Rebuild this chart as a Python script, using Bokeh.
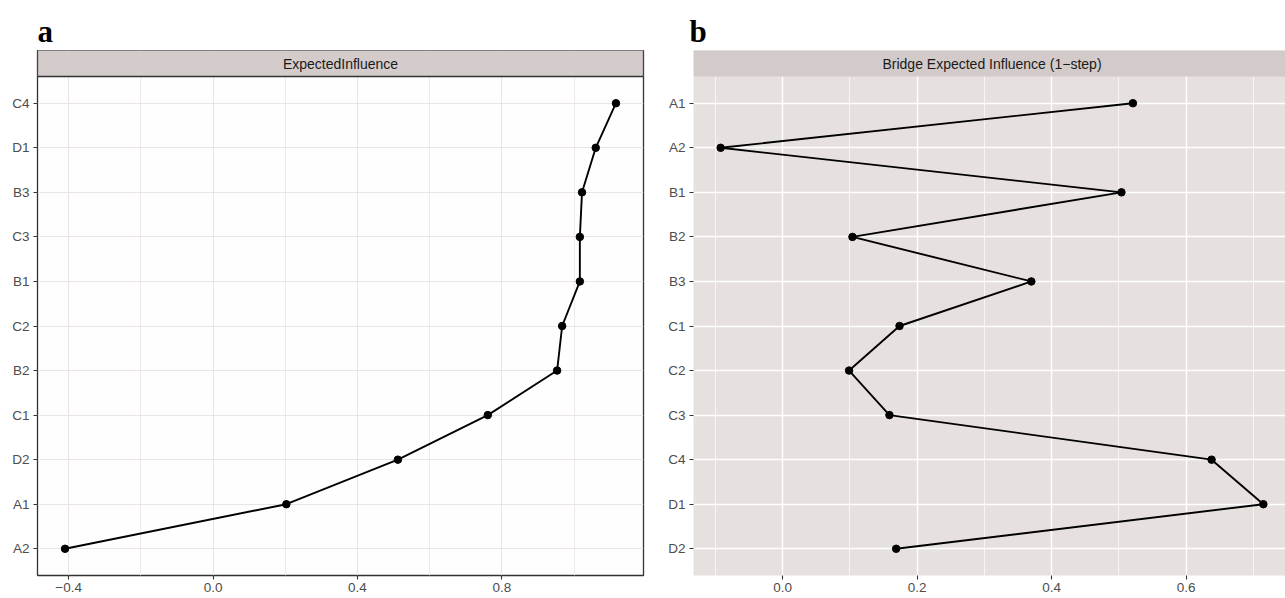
from bokeh.plotting import figure
from bokeh.layouts import column, row
from bokeh.models import Range1d, FixedTicker
from bokeh.core.properties import value
from bokeh.embed import file_html
from bokeh.resources import INLINE

# ---------------- data ----------------
left_title = "ExpectedInfluence"
left_cats = ["C4", "D1", "B3", "C3", "B1", "C2", "B2", "C1", "D2", "A1", "A2"]
left_vals = [1.116, 1.060, 1.022, 1.016, 1.016, 0.967, 0.953, 0.761, 0.512, 0.203, -0.410]
left_major = [-0.4, 0.0, 0.4, 0.8]
left_minor = [-0.2, 0.2, 0.6, 1.0]
left_tick_labels = ["\u22120.4", "0.0", "0.4", "0.8"]

right_title = "Bridge Expected Influence (1\u2212step)"
right_cats = ["A1", "A2", "B1", "B2", "B3", "C1", "C2", "C3", "C4", "D1", "D2"]
right_vals = [0.521, -0.092, 0.504, 0.104, 0.370, 0.174, 0.099, 0.159, 0.638, 0.715, 0.169]
right_major = [0.0, 0.2, 0.4, 0.6]
right_minor = [-0.1, 0.1, 0.3, 0.5, 0.7]
right_tick_labels = ["0.0", "0.2", "0.4", "0.6"]

panel_letters = ["a", "b"]

# ---------------- layout constants ----------------
HEADER_H = 50
FIG_H = 548
PANEL_H = 499
STRIP_H = 26
BOTTOM = 23
FONT = "Liberation Sans"


def make_panel(cats, vals, title, major, minor, tick_labels, width, frame_left,
               frame_w, full_w, theme):
    n = len(cats)
    ys = [n - i for i in range(n)]
    y0, y1 = 0.4, n + 0.6
    unit = PANEL_H / (y1 - y0)
    ytop = y1 + STRIP_H / unit

    vmin, vmax = min(vals), max(vals)
    span = vmax - vmin
    xs0 = vmin - 0.05 * span
    xs1 = vmax + 0.05 * span
    xe = xs0 + (xs1 - xs0) * frame_w / full_w

    p = figure(width=width, height=FIG_H, x_range=Range1d(xs0, xe),
               y_range=Range1d(y0, ytop), output_backend="svg",
               toolbar_location=None, min_border_left=frame_left,
               min_border_right=width - frame_left - frame_w,
               min_border_top=0, min_border_bottom=BOTTOM)
    p.border_fill_color = "white"

    if theme == "bw":
        p.background_fill_color = "#fefefe"
        p.outline_line_color = "#333333"
        p.outline_line_width = 1.3
        grid_col, grid_w, mgrid_col, mgrid_w = "#ebe4e4", 1.0, "#efe9e9", 1.0
        strip_fill = "#d4cccb"
        strip_line = "#333333"
    else:
        p.background_fill_color = "#e6e0df"
        p.outline_line_color = None
        grid_col, grid_w, mgrid_col, mgrid_w = "#ffffff", 1.5, "#ffffff", 0.7
        strip_fill = "#d3cbca"
        strip_line = None

    p.xaxis.ticker = FixedTicker(ticks=major, minor_ticks=minor)
    p.xaxis.major_label_overrides = {t: s for t, s in zip(major, tick_labels)}
    p.yaxis.ticker = FixedTicker(ticks=ys)
    p.yaxis.major_label_overrides = {y: c for y, c in zip(ys, cats)}

    for ax in (p.xaxis[0], p.yaxis[0]):
        ax.axis_line_color = None
        ax.major_tick_line_color = "#333333"
        ax.major_tick_line_width = 1.1
        ax.major_tick_out = 4
        ax.major_tick_in = 0
        ax.minor_tick_line_color = None
        ax.major_label_text_font = FONT
        ax.major_label_text_font_size = "13.5px"
        ax.major_label_text_color = "#4d4d4d"
    p.xaxis.major_label_standoff = 3
    p.yaxis.major_label_standoff = 4

    p.xgrid.grid_line_color = grid_col
    p.xgrid.grid_line_width = grid_w
    p.xgrid.minor_grid_line_color = mgrid_col
    p.xgrid.minor_grid_line_width = mgrid_w
    p.ygrid.grid_line_color = grid_col
    p.ygrid.grid_line_width = grid_w

    # strip
    p.quad(left=[xs0], right=[xs1], bottom=[y1], top=[ytop + 1],
           fill_color=strip_fill, line_color=strip_line, line_width=1.3)
    p.text(x=[(xs0 + xs1) / 2], y=[(y1 + ytop) / 2], text=[title],
           text_align="center", text_baseline="middle",
           text_font=value(FONT), text_font_size="14px", text_color="#1a1a1a")

    # data
    p.line(vals, ys, line_color="black", line_width=1.9)
    p.scatter(vals, ys, size=7.5, fill_color="black", line_color="black")
    return p


left = make_panel(left_cats, left_vals, left_title, left_major, left_minor,
                  left_tick_labels, width=658, frame_left=37, frame_w=606,
                  full_w=606, theme="bw")
right = make_panel(right_cats, right_vals, right_title, right_major, right_minor,
                   right_tick_labels, width=627, frame_left=35, frame_w=592,
                   full_w=597, theme="grey")

header = figure(width=1285, height=HEADER_H, x_range=Range1d(0, 1285),
                y_range=Range1d(HEADER_H, 0), output_backend="svg",
                toolbar_location=None, x_axis_type=None, y_axis_type=None,
                min_border=0)
header.outline_line_color = None
header.grid.visible = False
header.text(x=[37, 689], y=[31, 31], text=panel_letters, text_align="left",
            text_baseline="alphabetic", text_font=value("Liberation Serif"),
            text_font_style="bold", text_font_size="31px", text_color="black")

layout = column(header, row(left, right, spacing=0), spacing=0)

with open("out.html", "w") as f:
    f.write(file_html(layout, INLINE))
